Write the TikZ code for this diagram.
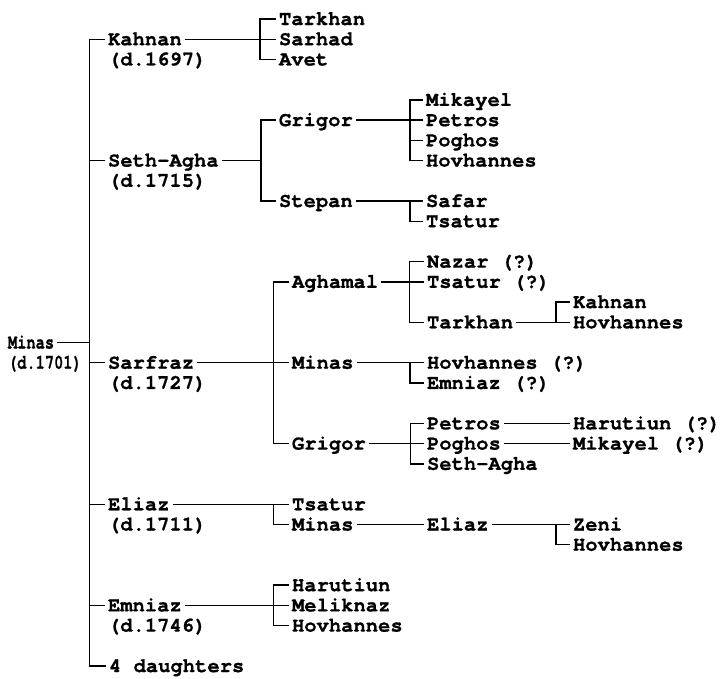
\documentclass[tikz,border=0pt]{standalone}
\usepackage{fontspec}
\usepackage{graphicx}
\newfontfamily\cour{texgyrecursor}[Extension=.otf, UprightFont=*-regular, BoldFont=*-bold, BoldFeatures={FakeBold=0.8}]
\begin{document}
\begin{tikzpicture}[x=1pt,y=-20.22pt,
  nm/.style={font=\cour\bfseries\fontsize{20.5}{20.5}\selectfont, anchor=west, inner sep=0pt, outer xsep=3pt, outer ysep=0pt, text height=12pt, text depth=0pt},
  ln/.style={line width=1.4pt}]
\useasboundingbox (0,-0.9397) rectangle (720,32.592);
% root
\node[nm] (root) at (5,16) {\scalebox{0.75}[1]{Minas}};
\node[nm] (rootD) at (5,17) {\scalebox{0.75}[1]{(d.1701)}};
% level 1
\node[nm] (kah) at (105,1) {Kahnan};
\node[nm] (kahD) at (105,2) {(d.1697)};
\node[nm] (seth) at (105,7) {Seth-Agha};
\node[nm] (sethD) at (105,8) {(d.1715)};
\node[nm] (sarf) at (105,17) {Sarfraz};
\node[nm] (sarfD) at (105,18) {(d.1727)};
\node[nm] (eli) at (105,24) {Eliaz};
\node[nm] (eliD) at (105,25) {(d.1711)};
\node[nm] (emn) at (105,29) {Emniaz};
\node[nm] (emnD) at (105,30) {(d.1746)};
\node[nm] (dau) at (106,32) {4 daughters};
% Kahnan children
\node[nm] (kT) at (276,0) {Tarkhan};
\node[nm] (kS) at (276,1) {Sarhad};
\node[nm] (kA) at (276,2) {Avet};
% Seth-Agha children
\node[nm] (sG) at (276,5) {Grigor};
\node[nm] (sS) at (276,9) {Stepan};
\node[nm] (gM) at (423,4) {Mikayel};
\node[nm] (gPe) at (423,5) {Petros};
\node[nm] (gPo) at (423,6) {Poghos};
\node[nm] (gH) at (423,7) {Hovhannes};
\node[nm] (stS) at (423,9) {Safar};
\node[nm] (stT) at (423,10) {Tsatur};
% Sarfraz children
\node[nm] (aA) at (289,13) {Aghamal};
\node[nm] (aM) at (289,17) {Minas};
\node[nm] (aG) at (289,21) {Grigor};
\node[nm] (agN) at (424,12) {Nazar (?)};
\node[nm] (agT) at (424,13) {Tsatur (?)};
\node[nm] (agK) at (424,15) {Tarkhan};
\node[nm] (tK) at (570,14) {Kahnan};
\node[nm] (tH) at (570,15) {Hovhannes};
\node[nm] (mH) at (424,17) {Hovhannes (?)};
\node[nm] (mE) at (424,18) {Emniaz (?)};
\node[nm] (grP) at (424,20) {Petros};
\node[nm] (grPo) at (424,21) {Poghos};
\node[nm] (grS) at (424,22) {Seth-Agha};
\node[nm] (hH) at (570,20) {Harutiun (?)};
\node[nm] (hM) at (570,21) {Mikayel (?)};
% Eliaz children
\node[nm] (eT) at (289,24) {Tsatur};
\node[nm] (eM) at (289,25) {Minas};
\node[nm] (eE) at (424,25) {Eliaz};
\node[nm] (zZ) at (570,25) {Zeni};
\node[nm] (zH) at (570,26) {Hovhannes};
% Emniaz children
\node[nm] (emH) at (289,28) {Harutiun};
\node[nm] (emM) at (289,29) {Meliknaz};
\node[nm] (emHo) at (289,30) {Hovhannes};
% junctions
\coordinate (jMain) at (89.5,16);
\coordinate (jKah) at (260,1);
\coordinate (jSeth) at (261,7);
\coordinate (jGri) at (410,5);
\coordinate (jSte) at (410,9);
\coordinate (jSarf) at (273.5,17);
\coordinate (jAgh) at (409.5,13);
\coordinate (jTar) at (556,15);
\coordinate (jMin) at (410,17);
\coordinate (jGr2) at (410.5,21);
\coordinate (jEli) at (273.5,24);
\coordinate (jEl2) at (556,25);
\coordinate (jEmn) at (273.5,29);
% main
\draw[ln] (root.east) -- (root.east -| jMain);
\draw[ln] (kah.west) -| (jMain |- dau.west) -- (dau.west);
\foreach \n in {seth,sarf,eli,emn} \draw[ln] (\n.west) -- (\n.west -| jMain);
% Kahnan
\draw[ln] (kah.east) -- (kah.east -| jKah);
\draw[ln] (kT.west) -| (jKah |- kA.west) -- (kA.west);
\draw[ln] (kS.west) -- (kS.west -| jKah);
% Seth-Agha
\draw[ln] (seth.east) -- (seth.east -| jSeth);
\draw[ln] (sG.west) -| (jSeth |- sS.west) -- (sS.west);
\draw[ln] (sG.east) -- (sG.east -| jGri);
\draw[ln] (gM.west) -| (jGri |- gH.west) -- (gH.west);
\foreach \n in {gPe,gPo} \draw[ln] (\n.west) -- (\n.west -| jGri);
\draw[ln] (sS.east) -- (sS.east -| jSte);
\draw[ln] (stS.west) -| (jSte |- stT.west) -- (stT.west);
% Sarfraz
\draw[ln] (sarf.east) -- (sarf.east -| jSarf);
\draw[ln] (aA.west) -| (jSarf |- aG.west) -- (aG.west);
\draw[ln] (aM.west) -- (aM.west -| jSarf);
\draw[ln] (aA.east) -- (aA.east -| jAgh);
\draw[ln] (agN.west) -| (jAgh |- agK.west) -- (agK.west);
\draw[ln] (agT.west) -- (agT.west -| jAgh);
\draw[ln] (agK.east) -- (agK.east -| jTar);
\draw[ln] (tK.west) -| (jTar |- tH.west) -- (tH.west);
\draw[ln] (aM.east) -- (aM.east -| jMin);
\draw[ln] (mH.west) -| (jMin |- mE.west) -- (mE.west);
\draw[ln] (aG.east) -- (aG.east -| jGr2);
\draw[ln] (grP.west) -| (jGr2 |- grS.west) -- (grS.west);
\draw[ln] (grPo.west) -- (grPo.west -| jGr2);
\draw[ln] (grP.east) -- (hH.west);
\draw[ln] (grPo.east) -- (hM.west);
% Eliaz
\draw[ln] (eli.east) -- (eli.east -| jEli);
\draw[ln] (eT.west) -| (jEli |- eM.west) -- (eM.west);
\draw[ln] (eM.east) -- (eE.west);
\draw[ln] (eE.east) -- (eE.east -| jEl2);
\draw[ln] (zZ.west) -| (jEl2 |- zH.west) -- (zH.west);
% Emniaz
\draw[ln] (emn.east) -- (emn.east -| jEmn);
\draw[ln] (emH.west) -| (jEmn |- emHo.west) -- (emHo.west);
\draw[ln] (emM.west) -- (emM.west -| jEmn);
\end{tikzpicture}
\end{document}
